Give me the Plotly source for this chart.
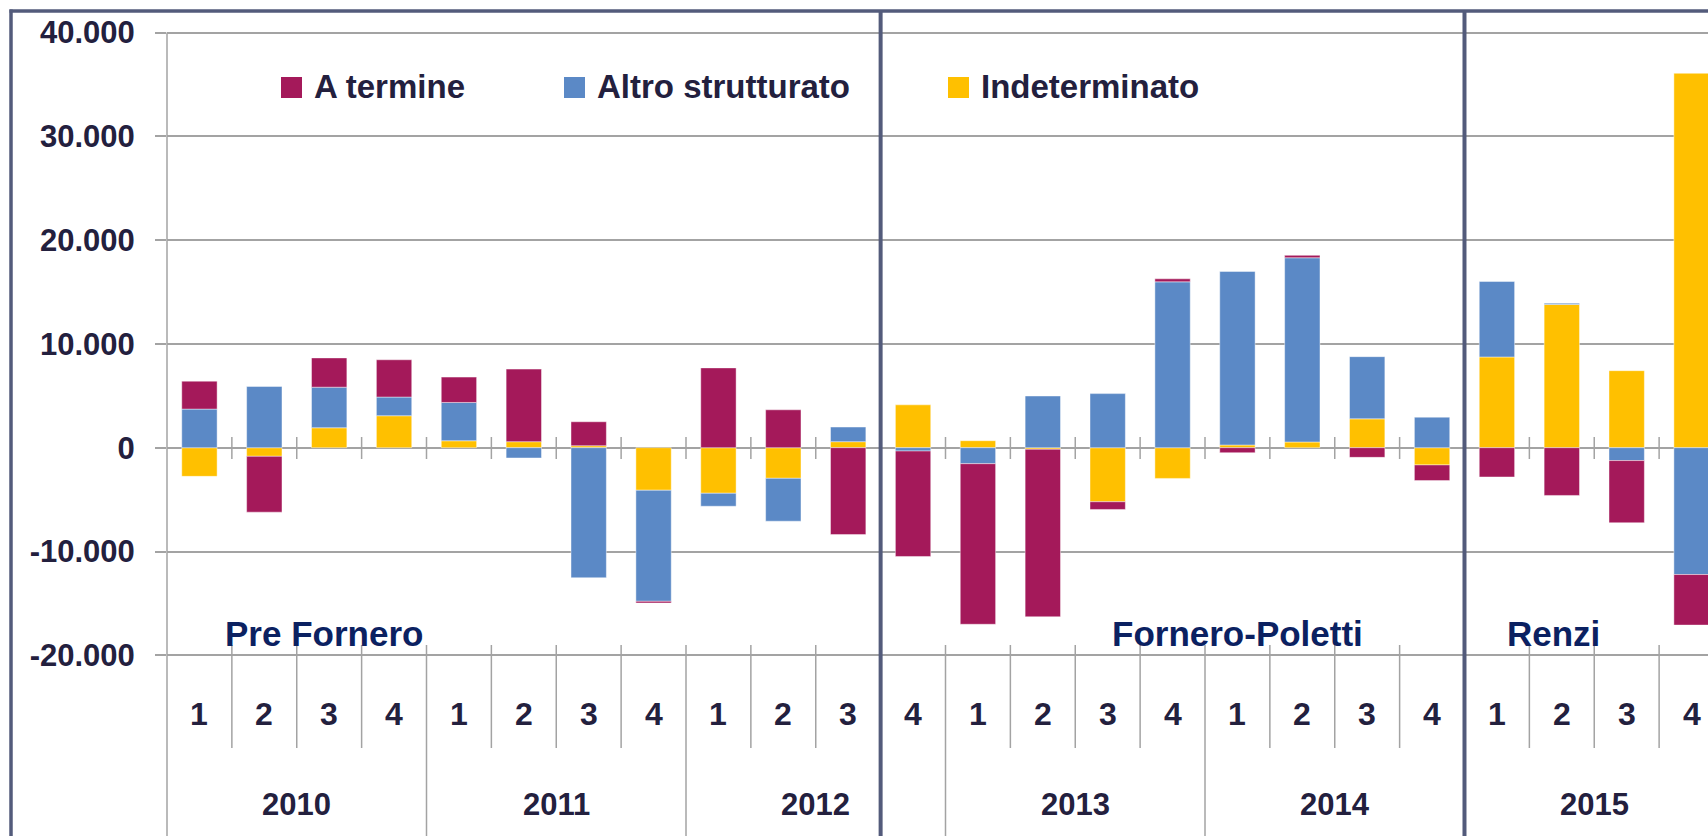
import plotly.graph_objects as go

# ---------------- data ----------------
years = ["2010", "2011", "2012", "2013", "2014", "2015"]
quarter_labels = ["1", "2", "3", "4"]
categories = [f"{y} T{q}" for y in years for q in quarter_labels]

a_termine = [2690, -5380, 2820, 3590, 2440, 6990, 2310, -160, 7690, 3650, -8370, -10160,
             -15470, -16140, -740, 290, -480, 230, -930, -1510, -2820, -4600, -5990, -4870]
altro_strutturato = [3720, 5900, 3910, 1800, 3690, -990, -12530, -10700, -1250, -4130, 1410, -320,
                     -1540, 4980, 5210, 15980, 16720, 17750, 5990, 2940, 7270, 120, -1240, -12220]
indeterminato = [-2760, -830, 1920, 3080, 670, 580, 190, -4100, -4390, -2950, 580, 4130,
                 675, -150, -5210, -2960, 260, 550, 2780, -1660, 8740, 13800, 7420, 36070]

series_names = ["A termine", "Altro strutturato", "Indeterminato"]
y_tickvals = [-20000, -10000, 0, 10000, 20000, 30000, 40000]
y_ticktext = ["-20.000", "-10.000", "0", "10.000", "20.000", "30.000", "40.000"]
periods = ["Pre Fornero", "Fornero-Poletti", "Renzi"]

# ---------------- styles ----------------
C_TERM = "#A4195A"
C_ALTRO = "#5B89C6"
C_INDET = "#FFC000"
TXT = "#23203E"
NAVY = "#0B2161"
FRAME = "#535B7B"
GRID = "#A3A3A3"
FONT = "Liberation Sans, Arial, sans-serif"

W, H = 1708, 836
L, T = 167, 10
PLOT_W = W - L
PLOT_H = H - T
Y0_PX = 447.7
PPU = 103.8 / 10000.0


def yv(px):
    return (Y0_PX - px) / PPU


def xp(px):
    return (px - L) / PLOT_W


def ypp(px):
    return (H - px) / PLOT_H


fig = go.Figure()
for name, vals, col in [("Indeterminato", indeterminato, C_INDET),
                        ("Altro strutturato", altro_strutturato, C_ALTRO),
                        ("A termine", a_termine, C_TERM)]:
    fig.add_trace(go.Bar(x=categories, y=vals, name=name, marker_color=col,
                         marker_line=dict(color="rgba(255,255,255,0.55)", width=0.8),
                         showlegend=False))

shapes = []
n = len(categories)
# zero-line ticks at category boundaries
for k in range(1, n):
    shapes.append(dict(type="line", xref="x", yref="y", x0=k - 0.5, x1=k - 0.5,
                       y0=yv(437), y1=yv(459), line=dict(color=GRID, width=1.5)))
# bottom axis ticks
for k in range(1, n):
    bottom = 836 if k % 4 == 0 else 748
    shapes.append(dict(type="line", xref="x", yref="y", x0=k - 0.5, x1=k - 0.5,
                       y0=yv(645), y1=yv(bottom), line=dict(color=GRID, width=1.5)))
# y axis spine
shapes.append(dict(type="line", xref="paper", yref="y", x0=0, x1=0,
                   y0=40000, y1=yv(836), line=dict(color=GRID, width=1.5)))
# period separators
for xs in [10.5, 19.5]:
    shapes.append(dict(type="line", xref="x", yref="paper", x0=xs, x1=xs,
                       y0=0, y1=ypp(11), line=dict(color=FRAME, width=4)))
# frame (left and top)
shapes.append(dict(type="line", xref="paper", yref="paper", x0=xp(11), x1=xp(11),
                   y0=ypp(9.5), y1=0, line=dict(color=FRAME, width=3.5)))
shapes.append(dict(type="line", xref="paper", yref="paper", x0=xp(9.5), x1=1,
                   y0=ypp(11), y1=ypp(11), line=dict(color=FRAME, width=3.5)))

annotations = []
# legend (manual)
leg_marker_px = [281, 564, 948]
leg_text_px = [312, 595, 979]
leg_cols = [C_TERM, C_ALTRO, C_INDET]
for nm, mx, tx, col in zip(series_names, leg_marker_px, leg_text_px, leg_cols):
    shapes.append(dict(type="rect", xref="paper", yref="paper", x0=xp(mx), x1=xp(mx + 21),
                       y0=ypp(98), y1=ypp(77), fillcolor=col, line=dict(width=0)))
    annotations.append(dict(xref="paper", yref="paper", x=xp(tx), y=ypp(86.5), text=nm,
                            xanchor="left", yanchor="middle", showarrow=False,
                            font=dict(family=FONT, size=33, color=TXT, weight="bold")))

# quarter labels
for i, c in enumerate(categories):
    q = c.split("T")[1]
    annotations.append(dict(xref="x", yref="y", x=i, y=yv(714), text=q, showarrow=False,
                            xanchor="center", yanchor="middle",
                            font=dict(family=FONT, size=32, color=TXT, weight="bold")))
# year labels
for j, yr in enumerate(years):
    annotations.append(dict(xref="x", yref="y", x=4 * j + 1.5, y=yv(804), text=yr, showarrow=False,
                            xanchor="center", yanchor="middle",
                            font=dict(family=FONT, size=31, color=TXT, weight="bold")))
# period labels
period_x = [0.363, 14.03, 20.12]
for p, px_ in zip(periods, period_x):
    annotations.append(dict(xref="x", yref="y", x=px_, y=yv(633), text=p, showarrow=False,
                            xanchor="left", yanchor="middle",
                            font=dict(family=FONT, size=35, color=NAVY, weight="bold")))

fig.update_layout(
    width=W, height=H,
    margin=dict(l=L, r=0, t=T, b=0, pad=0),
    paper_bgcolor="white", plot_bgcolor="white",
    barmode="relative", bargap=0.455,
    showlegend=False,
    xaxis=dict(type="category", range=[-0.5, n - 0.5 - 16 / 64.9], showticklabels=False,
               showgrid=False, zeroline=False, showline=False, ticks=""),
    yaxis=dict(range=[yv(836), yv(10)], tickvals=y_tickvals, ticktext=y_ticktext,
               showgrid=True, gridcolor=GRID, gridwidth=1.5, zeroline=False, showline=False,
               ticks="outside", ticklen=11, tickcolor=GRID, tickwidth=1.5,
               ticklabelstandoff=14,
               tickfont=dict(family=FONT, size=31, color=TXT, weight="bold")),
    shapes=shapes,
    annotations=annotations,
)

fig.write_html("out.html",
               config={"displayModeBar": False},
               post_script="document.body.style.margin='0px';"
                           "document.documentElement.style.overflow='hidden';")
